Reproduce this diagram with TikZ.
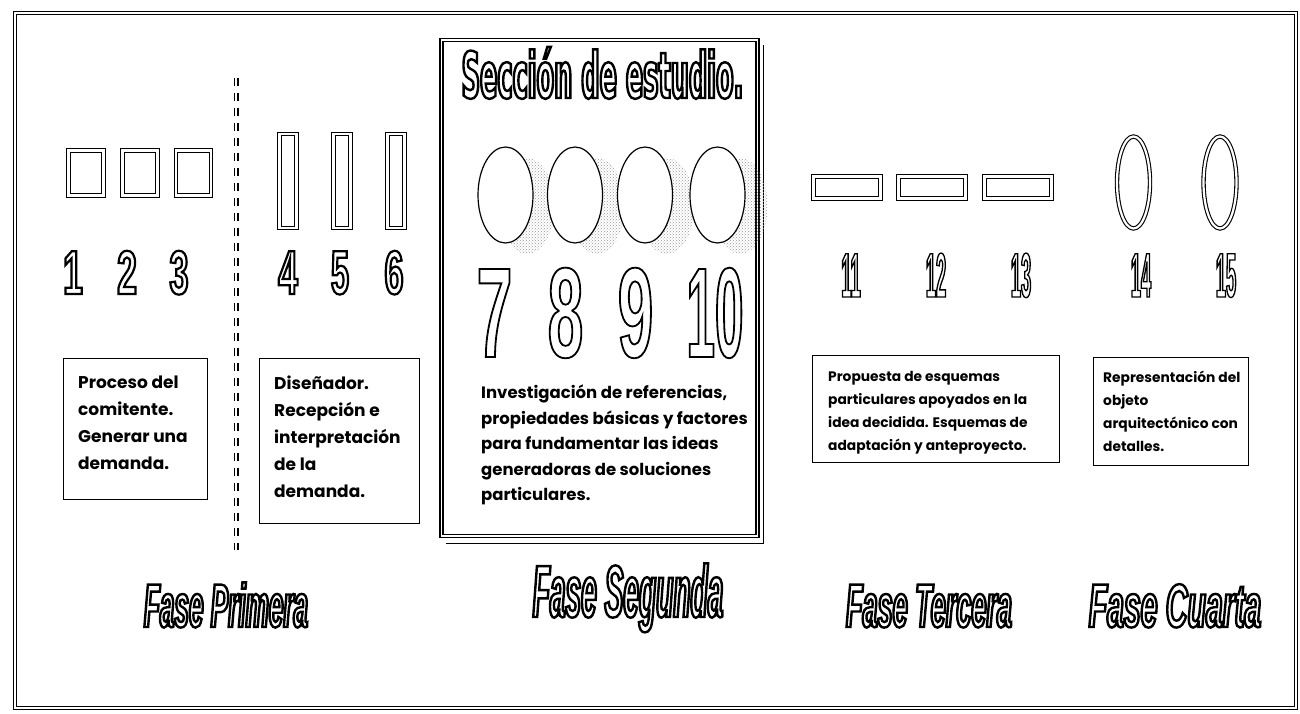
\documentclass[tikz,border=0pt]{standalone}
\usepackage{fontspec}
\setmainfont{Poppins}
\newfontfamily\numfont{Liberation Sans}
\newfontfamily\titlefont{DejaVu Sans}
\usetikzlibrary{patterns,shapes.geometric}
% outlined text via PDF text render mode (stroke only)
\newcommand\strk[2]{\special{pdf:literal direct #1 w 1 Tr}#2\special{pdf:literal direct 0 Tr}}
% size, horizontal stretch, stroke, text
\newcommand\olt[4]{{\numfont\bfseries\fontsize{#1}{#1}\selectfont\addfontfeatures{FakeStretch=#2}\strk{#3}{#4}}}
\newcommand\olti[4]{{\numfont\bfseries\itshape\fontsize{#1}{#1}\selectfont\addfontfeatures{FakeStretch=#2}\strk{#3}{#4}}}
\newcommand\oltt[4]{{\titlefont\bfseries\fontsize{#1}{#1}\selectfont\addfontfeatures{FakeStretch=#2}\strk{#3}{#4}}}
\tikzset{
  dblshape/.style={draw, double, line width=1.1pt, double distance=2.2pt, inner sep=0pt},
  sqbox/.style={dblshape, rectangle, minimum width=35pt, minimum height=45pt},
  tallbox/.style={dblshape, rectangle, minimum width=17pt, minimum height=94pt},
  widebox/.style={dblshape, rectangle, minimum width=67pt, minimum height=22pt},
  ringell/.style={dblshape, ellipse, minimum width=33pt, minimum height=92pt},
  bigell/.style={draw, ellipse, fill=white, line width=1.2pt, minimum width=55pt, minimum height=96pt, inner sep=0pt},
  shadowell/.style={ellipse, pattern=crosshatch dots, pattern color=gray!80, minimum width=55pt, minimum height=96pt, inner sep=0pt},
  txtbox/.style={draw, rectangle, line width=1pt, inner sep=0pt},
  bigtxt/.style={anchor=north west, align=left, inner sep=0pt, font=\fontsize{17}{27}\selectfont\bfseries},
  smalltxt/.style={anchor=north west, align=left, inner sep=0pt, font=\fontsize{13.8}{23}\selectfont\bfseries},
  numlbl/.style={anchor=base, inner sep=0pt},
}
\begin{document}
\begin{tikzpicture}[x=1pt,y=-1pt]
\useasboundingbox (0,0) rectangle (1300,713);
% outer frame
\draw[double, line width=1.2pt, double distance=1.6pt] (15,13) rectangle (1296,708);
% dashed divider
\coordinate (dv1) at (234.5,78);
\coordinate (dv2) at (234.5,550);
\coordinate (dw1) at (238,78);
\coordinate (dw2) at (238,550);
\draw[line width=1.3pt, dash pattern=on 8pt off 7pt] (dv1) -- (dv2);
\draw[line width=1.3pt, dash pattern=on 8pt off 7pt] (dw1) -- (dw2);

% Fase primera shapes
\node[sqbox] (s1) at (86,173) {};
\node[sqbox] (s2) at (140,173) {};
\node[sqbox] (s3) at (193.5,173) {};
\node[tallbox] (s4) at (288,181) {};
\node[tallbox] (s5) at (342,181) {};
\node[tallbox] (s6) at (396,181) {};
\node[numlbl] (n1) at (73,294) {\olt{62}{0.57}{2.2}{1}};
\node[numlbl] (n2) at (127,294) {\olt{62}{0.57}{2.2}{2}};
\node[numlbl] (n3) at (179,294) {\olt{62}{0.55}{2.2}{3}};
\node[numlbl] (n4) at (288,294) {\olt{62}{0.57}{2.2}{4}};
\node[numlbl] (n5) at (340,294) {\olt{62}{0.52}{2.2}{5}};
\node[numlbl] (n6) at (394,294) {\olt{62}{0.55}{2.2}{6}};

% text boxes primera
\node[txtbox, minimum width=144pt, minimum height=141pt] (b1) at (135,428.5) {};
\node[bigtxt] (t1) at (78,376) {Proceso del\\comitente.\\Generar una\\demanda.};
\node[txtbox, minimum width=160pt, minimum height=165pt] (b2) at (339,440.5) {};
\node[bigtxt] (t2) at (274,376) {Diseñador.\\Recepción e\\interpretación\\de la\\demanda.};

% Seccion de estudio
\coordinate (sh1) at (446,543);
\coordinate (sh2) at (763,543);
\coordinate (sh3) at (763,45);
\draw[line width=0.8pt] (sh1) -- (sh2) -- (sh3);
\node[draw, double, line width=1.2pt, double distance=1.8pt, minimum width=316pt, minimum height=496pt, inner sep=0pt] (sec) at (599.5,288) {};
\node[anchor=base, inner sep=0pt] (title) at (602.5,98) {\oltt{64}{0.40}{2.4}{Sección de estudio.}};
\node[shadowell] (sh7) at (527,206) {};
\node[shadowell] (sh8) at (597,206) {};
\node[shadowell] (sh9) at (667,206) {};
\node[shadowell] (sh10) at (740,206) {};
\node[bigell] (e7) at (505.5,195) {};
\node[bigell] (e8) at (575,195) {};
\node[bigell] (e9) at (645,195) {};
\node[bigell] (e10) at (717.5,195) {};
\node[numlbl] (n7) at (494.5,357) {\olt{128}{0.5}{1.8}{7}};
\node[numlbl] (n8) at (565.5,357) {\olt{128}{0.5}{1.8}{8}};
\node[numlbl] (n9) at (635.5,357) {\olt{128}{0.5}{1.8}{9}};
\node[numlbl] (n10) at (715,357) {\olt{128}{0.4}{1.8}{10}};
\node[anchor=north west, align=left, inner sep=0pt, font=\fontsize{16.5}{25.5}\selectfont\bfseries] (t3) at (481,385) {Investigación de referencias,\\propiedades básicas y factores\\para fundamentar las ideas\\generadoras de soluciones\\particulares.};

% Fase tercera
\node[widebox] (s11) at (847,187.5) {};
\node[widebox] (s12) at (932,187.5) {};
\node[widebox] (s13) at (1018,187.5) {};
\node[numlbl] (n11) at (851,297) {\olt{63}{0.29}{1.3}{11}};
\node[numlbl] (n12) at (936,297) {\olt{63}{0.29}{1.3}{12}};
\node[numlbl] (n13) at (1021,297) {\olt{63}{0.29}{1.3}{13}};
\node[txtbox, minimum width=247pt, minimum height=107pt] (b3) at (935.5,408.5) {};
\node[smalltxt] (t4) at (828,371) {Propuesta de esquemas\\particulares apoyados en la\\idea decidida. Esquemas de\\adaptación y anteproyecto.};

% Fase cuarta
\node[ringell] (s14) at (1133.5,182.5) {};
\node[ringell] (s15) at (1220,182.5) {};
\node[numlbl] (n14) at (1141,297) {\olt{63}{0.29}{1.3}{14}};
\node[numlbl] (n15) at (1226,297) {\olt{63}{0.29}{1.3}{15}};
\node[txtbox, minimum width=155pt, minimum height=108pt] (b4) at (1170.5,411) {};
\node[smalltxt] (t5) at (1103,371) {Representación del\\objeto\\arquitectónico con\\detalles.};

% Fase labels
\node[numlbl] (f1) at (226,627) {\olti{61.5}{0.425}{2.4}{Fase Primera}};
\node[numlbl] (f2) at (628,617) {\olti{74}{0.38}{2.4}{Fase Segunda}};
\node[numlbl] (f3) at (929,627) {\olti{61.5}{0.44}{2.4}{Fase Tercera}};
\node[numlbl] (f4) at (1175,627) {\olti{61.5}{0.49}{2.4}{Fase Cuarta}};
\end{tikzpicture}
\end{document}
